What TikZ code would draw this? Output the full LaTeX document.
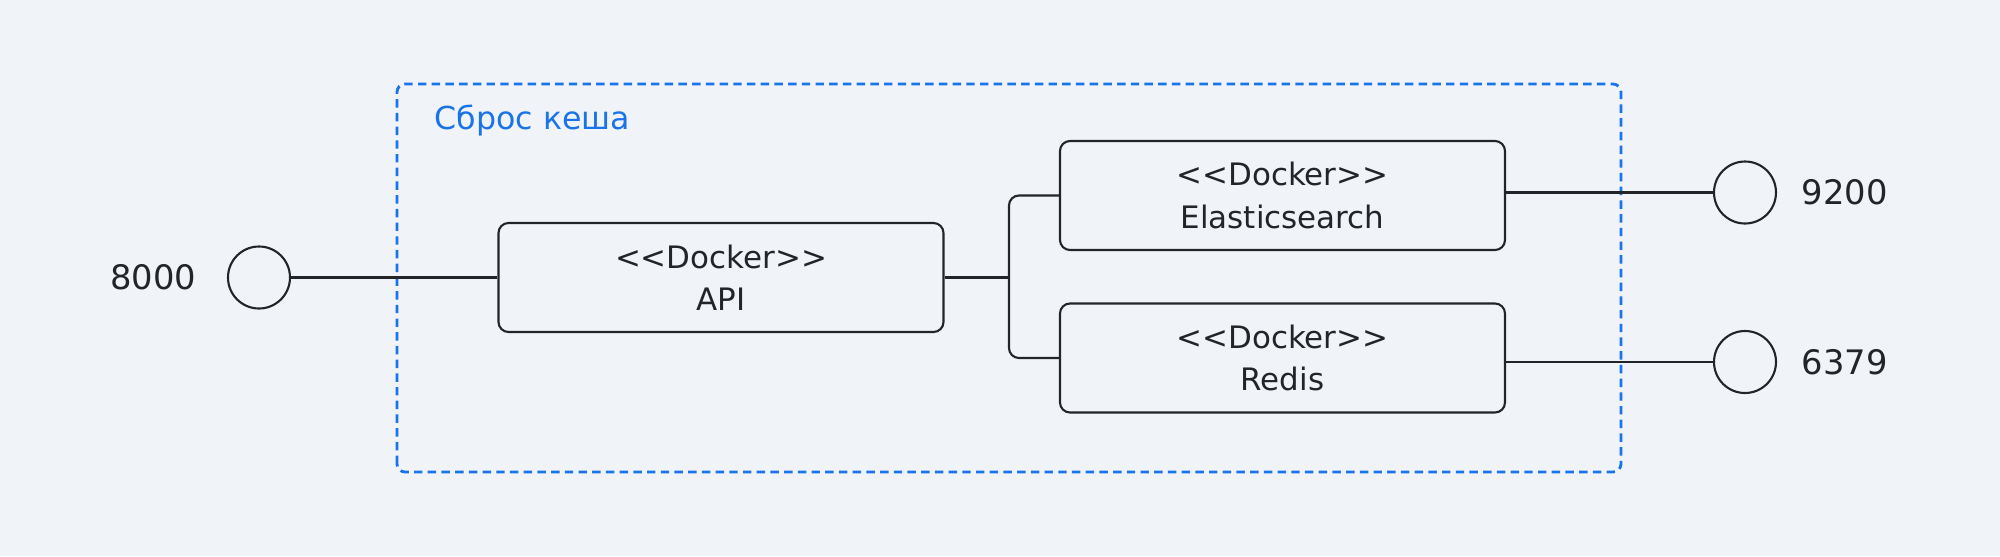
\documentclass[tikz,border=0pt]{standalone}
\usepackage{fontspec}
\setmainfont{DejaVu Sans}
\usepackage{tikz}
\usetikzlibrary{positioning}
\definecolor{paper}{HTML}{F0F4F8}
\definecolor{ink}{HTML}{222428}
\definecolor{cacheblue}{HTML}{1A73E8}

\begin{document}
\begin{tikzpicture}[
        node distance=0.3cm,
        every node/.style={align=center, text=ink},
        container/.style={rectangle, draw=ink, line width=0.6pt, rounded corners=0.1cm, minimum width=4.45cm, minimum height=1.09cm, font=\fontsize{8.8}{12}\selectfont},
        port/.style={circle, draw=ink, line width=0.6pt, minimum size=0.62cm, inner sep=0pt},
        portlabel/.style={inner sep=0pt, font=\fontsize{9.6}{12}\selectfont},
        wire/.style={draw=ink, line width=0.6pt},
        frame/.style={draw=cacheblue, line width=0.8pt, dash pattern=on 2.4pt off 1.5pt, rounded corners=0.08cm}
    ]
    \fill[paper] (0,0) rectangle (20,5.56);

    % Cache reset group
    \draw[frame] (3.97,0.84) rectangle (16.21,4.72);
    \node[anchor=base west, inner sep=0pt, text=cacheblue, font=\fontsize{9}{12}\selectfont] (title) at (4.34,4.27) {Сброс кеша};

    % Containers
    \node[container] (api) at (7.21,2.785) {<{}<Docker>{}>\\API};
    \node[container] (elastic) at (12.825,3.605) {<{}<Docker>{}>\\Elasticsearch};
    \node[container] (redis) at (12.825,1.98) {<{}<Docker>{}>\\Redis};

    % Ports
    \node[port] (p8000) at (2.59,2.785) {};
    \node[port] (p9200) at (17.45,3.635) {};
    \node[port] (p6379) at (17.45,1.94) {};
    \node[portlabel, left=0.3cm of p8000] (l8000) {8000};
    \node[portlabel, right=0.24cm of p9200] (l9200) {9200};
    \node[portlabel, right=0.24cm of p6379] (l6379) {6379};

    % Links
    \coordinate (fork) at (10.09,2.785);
    \draw[wire] (p8000) -- (api);
    \draw[wire] (api) -- (fork);
    \draw[wire, rounded corners=0.1cm] (elastic.west) -| (fork) |- (redis.west);
    \draw[wire] (elastic.east |- p9200) -- (p9200);
    \draw[wire] (redis.east |- p6379) -- (p6379);

\end{tikzpicture}
\end{document}
